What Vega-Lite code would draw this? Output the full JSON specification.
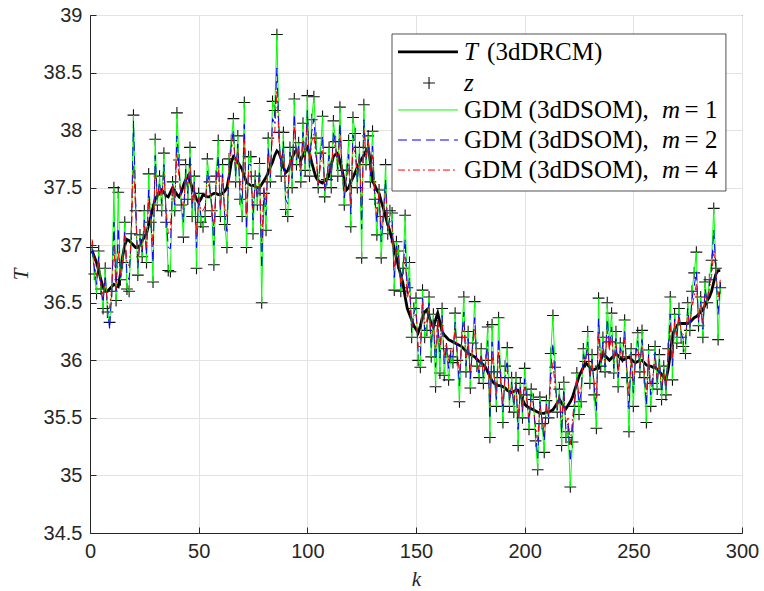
{
"$schema":"https://vega.github.io/schema/vega-lite/v6.json",
"width":652,"height":518,
"autosize":{"type":"none"},
"padding":{"left":90,"top":15,"right":22,"bottom":58},
"config":{"view":{"stroke":"#262626","strokeWidth":1},
"axis":{"labelFont":"Liberation Sans","labelFontSize":20,"labelColor":"#262626","labelFlush":false,"domainColor":"#262626","tickColor":"#262626","gridColor":"#e3e3e3","gridWidth":1,"titleFont":"Liberation Serif","titleFontStyle":"italic","titleFontWeight":"normal","titleFontSize":21,"titleColor":"#262626","tickSize":-6,"labelPadding":14}},
"datasets":{"d":[
{"k":1,"t":36.95,"z":36.98,"b":36.97,"r":37.05},
{"k":2,"t":36.9,"z":36.75,"b":36.8,"r":36.86},
{"k":3,"t":36.85,"z":36.58,"b":36.66,"r":36.72},
{"k":4,"t":36.78,"z":36.95,"b":36.9,"r":36.86},
{"k":5,"t":36.7,"z":36.62,"b":36.64,"r":36.66},
{"k":6,"t":36.64,"z":36.45,"b":36.5,"r":36.55},
{"k":7,"t":36.6,"z":36.8,"b":36.74,"r":36.7},
{"k":8,"t":36.6,"z":36.42,"b":36.47,"r":36.51},
{"k":9,"t":36.62,"z":36.33,"b":36.27,"r":36.45},
{"k":10,"t":36.64,"z":36.6,"b":36.58,"r":36.62},
{"k":11,"t":36.66,"z":37.5,"b":37.2,"r":37.0},
{"k":12,"t":36.65,"z":36.52,"b":36.6,"r":36.62},
{"k":13,"t":36.64,"z":37.46,"b":37.15,"r":36.95},
{"k":14,"t":36.75,"z":36.7,"b":36.72,"r":36.74},
{"k":15,"t":36.9,"z":36.85,"b":36.86,"r":36.88},
{"k":16,"t":37.0,"z":37.2,"b":37.12,"r":37.08},
{"k":17,"t":37.05,"z":36.62,"b":36.75,"r":36.85},
{"k":18,"t":37.04,"z":36.6,"b":36.7,"r":36.82},
{"k":19,"t":37.02,"z":37.1,"b":37.08,"r":37.06},
{"k":20,"t":37.0,"z":38.13,"b":38.08,"r":37.7},
{"k":21,"t":36.98,"z":37.3,"b":37.4,"r":37.3},
{"k":22,"t":36.98,"z":36.74,"b":36.8,"r":36.86},
{"k":23,"t":37.0,"z":37.09,"b":37.06,"r":37.04},
{"k":24,"t":37.04,"z":36.9,"b":36.94,"r":36.97},
{"k":25,"t":37.07,"z":37.3,"b":37.22,"r":37.18},
{"k":26,"t":37.1,"z":36.85,"b":36.92,"r":36.98},
{"k":27,"t":37.18,"z":37.62,"b":37.48,"r":37.4},
{"k":28,"t":37.25,"z":37.2,"b":37.22,"r":37.23},
{"k":29,"t":37.33,"z":36.68,"b":36.85,"r":37.0},
{"k":30,"t":37.4,"z":37.92,"b":37.78,"r":37.66},
{"k":31,"t":37.43,"z":37.35,"b":37.4,"r":37.4},
{"k":32,"t":37.45,"z":37.6,"b":37.55,"r":37.52},
{"k":33,"t":37.48,"z":37.3,"b":37.36,"r":37.4},
{"k":34,"t":37.46,"z":37.8,"b":37.7,"r":37.62},
{"k":35,"t":37.43,"z":37.2,"b":37.28,"r":37.32},
{"k":36,"t":37.42,"z":36.78,"b":36.98,"r":37.1},
{"k":37,"t":37.46,"z":36.77,"b":36.97,"r":37.12},
{"k":38,"t":37.5,"z":37.55,"b":37.54,"r":37.52},
{"k":39,"t":37.47,"z":37.3,"b":37.35,"r":37.38},
{"k":40,"t":37.44,"z":38.15,"b":37.95,"r":37.8},
{"k":41,"t":37.42,"z":37.74,"b":37.65,"r":37.58},
{"k":42,"t":37.46,"z":37.35,"b":37.38,"r":37.4},
{"k":43,"t":37.52,"z":37.07,"b":37.2,"r":37.3},
{"k":44,"t":37.57,"z":37.7,"b":37.66,"r":37.63},
{"k":45,"t":37.6,"z":37.4,"b":37.45,"r":37.5},
{"k":46,"t":37.56,"z":37.85,"b":37.78,"r":37.7},
{"k":47,"t":37.5,"z":37.25,"b":37.32,"r":37.38},
{"k":48,"t":37.45,"z":37.6,"b":37.55,"r":37.52},
{"k":49,"t":37.4,"z":36.8,"b":36.98,"r":37.1},
{"k":50,"t":37.37,"z":37.45,"b":37.43,"r":37.41},
{"k":51,"t":37.4,"z":37.2,"b":37.26,"r":37.3},
{"k":52,"t":37.44,"z":37.16,"b":37.24,"r":37.3},
{"k":53,"t":37.43,"z":37.25,"b":37.3,"r":37.34},
{"k":54,"t":37.42,"z":37.75,"b":37.65,"r":37.58},
{"k":55,"t":37.42,"z":37.55,"b":37.52,"r":37.48},
{"k":56,"t":37.44,"z":37.3,"b":37.34,"r":37.37},
{"k":57,"t":37.45,"z":36.83,"b":37.0,"r":37.14},
{"k":58,"t":37.45,"z":37.6,"b":37.56,"r":37.52},
{"k":59,"t":37.44,"z":37.91,"b":37.78,"r":37.68},
{"k":60,"t":37.44,"z":37.25,"b":37.3,"r":37.34},
{"k":61,"t":37.45,"z":37.7,"b":37.62,"r":37.58},
{"k":62,"t":37.47,"z":37.18,"b":37.26,"r":37.32},
{"k":63,"t":37.5,"z":36.98,"b":37.12,"r":37.24},
{"k":64,"t":37.6,"z":37.75,"b":37.7,"r":37.68},
{"k":65,"t":37.72,"z":37.91,"b":37.86,"r":37.82},
{"k":66,"t":37.77,"z":38.1,"b":38.0,"r":37.94},
{"k":67,"t":37.75,"z":37.55,"b":37.6,"r":37.65},
{"k":68,"t":37.72,"z":37.95,"b":37.88,"r":37.84},
{"k":69,"t":37.69,"z":37.4,"b":37.48,"r":37.54},
{"k":70,"t":37.66,"z":37.25,"b":37.36,"r":37.46},
{"k":71,"t":37.6,"z":38.24,"b":38.05,"r":37.92},
{"k":72,"t":37.55,"z":36.98,"b":37.14,"r":37.26},
{"k":73,"t":37.53,"z":37.77,"b":37.7,"r":37.65},
{"k":74,"t":37.52,"z":37.77,"b":37.7,"r":37.64},
{"k":75,"t":37.52,"z":37.1,"b":37.22,"r":37.31},
{"k":76,"t":37.51,"z":37.6,"b":37.57,"r":37.55},
{"k":77,"t":37.5,"z":37.35,"b":37.4,"r":37.42},
{"k":78,"t":37.5,"z":37.71,"b":37.65,"r":37.6},
{"k":79,"t":37.53,"z":36.5,"b":36.8,"r":37.02},
{"k":80,"t":37.56,"z":37.45,"b":37.48,"r":37.5},
{"k":81,"t":37.59,"z":37.13,"b":37.26,"r":37.36},
{"k":82,"t":37.63,"z":37.93,"b":37.84,"r":37.78},
{"k":83,"t":37.68,"z":37.55,"b":37.59,"r":37.62},
{"k":84,"t":37.72,"z":38.25,"b":38.1,"r":37.98},
{"k":85,"t":37.78,"z":38.17,"b":38.06,"r":37.98},
{"k":86,"t":37.82,"z":38.83,"b":38.54,"r":38.35},
{"k":87,"t":37.8,"z":37.98,"b":37.93,"r":37.89},
{"k":88,"t":37.75,"z":37.6,"b":37.64,"r":37.68},
{"k":89,"t":37.68,"z":37.98,"b":37.9,"r":37.83},
{"k":90,"t":37.63,"z":37.31,"b":37.4,"r":37.47},
{"k":91,"t":37.65,"z":37.25,"b":37.36,"r":37.45},
{"k":92,"t":37.7,"z":37.85,"b":37.81,"r":37.78},
{"k":93,"t":37.76,"z":37.5,"b":37.58,"r":37.63},
{"k":94,"t":37.8,"z":38.27,"b":38.14,"r":38.03},
{"k":95,"t":37.83,"z":37.7,"b":37.74,"r":37.77},
{"k":96,"t":37.78,"z":37.89,"b":37.86,"r":37.83},
{"k":97,"t":37.74,"z":37.55,"b":37.6,"r":37.65},
{"k":98,"t":37.78,"z":38.06,"b":37.98,"r":37.92},
{"k":99,"t":37.82,"z":37.65,"b":37.7,"r":37.74},
{"k":100,"t":37.85,"z":38.3,"b":38.17,"r":38.07},
{"k":101,"t":37.8,"z":37.6,"b":37.66,"r":37.7},
{"k":102,"t":37.72,"z":38.09,"b":37.98,"r":37.9},
{"k":103,"t":37.65,"z":38.29,"b":38.1,"r":37.97},
{"k":104,"t":37.59,"z":37.93,"b":37.83,"r":37.76},
{"k":105,"t":37.56,"z":37.5,"b":37.52,"r":37.53},
{"k":106,"t":37.55,"z":37.8,"b":37.73,"r":37.68},
{"k":107,"t":37.54,"z":38.12,"b":37.95,"r":37.83},
{"k":108,"t":37.56,"z":37.42,"b":37.46,"r":37.49},
{"k":109,"t":37.58,"z":37.57,"b":37.57,"r":37.58},
{"k":110,"t":37.6,"z":37.85,"b":37.78,"r":37.72},
{"k":111,"t":37.7,"z":37.5,"b":37.56,"r":37.6},
{"k":112,"t":37.77,"z":38.08,"b":37.99,"r":37.92},
{"k":113,"t":37.79,"z":37.9,"b":37.87,"r":37.84},
{"k":114,"t":37.8,"z":37.6,"b":37.66,"r":37.7},
{"k":115,"t":37.73,"z":38.2,"b":38.06,"r":37.96},
{"k":116,"t":37.65,"z":37.65,"b":37.65,"r":37.65},
{"k":117,"t":37.56,"z":37.35,"b":37.41,"r":37.46},
{"k":118,"t":37.48,"z":37.65,"b":37.6,"r":37.56},
{"k":119,"t":37.5,"z":37.91,"b":37.79,"r":37.7},
{"k":120,"t":37.55,"z":37.16,"b":37.27,"r":37.36},
{"k":121,"t":37.59,"z":38.11,"b":37.96,"r":37.85},
{"k":122,"t":37.63,"z":37.97,"b":37.87,"r":37.8},
{"k":123,"t":37.68,"z":37.5,"b":37.55,"r":37.6},
{"k":124,"t":37.72,"z":37.85,"b":37.81,"r":37.78},
{"k":125,"t":37.75,"z":36.89,"b":37.14,"r":37.32},
{"k":126,"t":37.78,"z":38.22,"b":38.09,"r":38.0},
{"k":127,"t":37.82,"z":37.7,"b":37.74,"r":37.76},
{"k":128,"t":37.85,"z":37.95,"b":37.92,"r":37.9},
{"k":129,"t":37.72,"z":37.55,"b":37.6,"r":37.64},
{"k":130,"t":37.56,"z":37.99,"b":37.86,"r":37.78},
{"k":131,"t":37.52,"z":37.4,"b":37.44,"r":37.46},
{"k":132,"t":37.48,"z":37.09,"b":37.2,"r":37.28},
{"k":133,"t":37.45,"z":37.48,"b":37.47,"r":37.46},
{"k":134,"t":37.38,"z":36.89,"b":37.03,"r":37.14},
{"k":135,"t":37.32,"z":37.25,"b":37.27,"r":37.28},
{"k":136,"t":37.25,"z":37.7,"b":37.57,"r":37.48},
{"k":137,"t":37.18,"z":37.1,"b":37.12,"r":37.14},
{"k":138,"t":37.12,"z":37.3,"b":37.25,"r":37.21},
{"k":139,"t":37.05,"z":37.28,"b":37.21,"r":37.16},
{"k":140,"t":36.97,"z":36.61,"b":36.72,"r":36.8},
{"k":141,"t":36.89,"z":37.03,"b":36.99,"r":36.96},
{"k":142,"t":36.81,"z":36.95,"b":36.91,"r":36.88},
{"k":143,"t":36.74,"z":36.6,"b":36.64,"r":36.67},
{"k":144,"t":36.67,"z":36.8,"b":36.76,"r":36.73},
{"k":145,"t":36.55,"z":37.26,"b":37.05,"r":36.9},
{"k":146,"t":36.45,"z":36.63,"b":36.58,"r":36.54},
{"k":147,"t":36.4,"z":36.85,"b":36.72,"r":36.62},
{"k":148,"t":36.35,"z":36.2,"b":36.24,"r":36.28},
{"k":149,"t":36.3,"z":36.45,"b":36.41,"r":36.38},
{"k":150,"t":36.27,"z":36.54,"b":36.46,"r":36.4},
{"k":151,"t":36.24,"z":36.0,"b":36.07,"r":36.12},
{"k":152,"t":36.3,"z":35.94,"b":36.04,"r":36.12},
{"k":153,"t":36.38,"z":36.61,"b":36.54,"r":36.5},
{"k":154,"t":36.42,"z":36.2,"b":36.26,"r":36.31},
{"k":155,"t":36.44,"z":36.26,"b":36.31,"r":36.35},
{"k":156,"t":36.38,"z":36.55,"b":36.5,"r":36.46},
{"k":157,"t":36.32,"z":36.03,"b":36.11,"r":36.18},
{"k":158,"t":36.29,"z":36.4,"b":36.37,"r":36.34},
{"k":159,"t":36.35,"z":35.77,"b":35.94,"r":36.06},
{"k":160,"t":36.41,"z":36.3,"b":36.33,"r":36.36},
{"k":161,"t":36.33,"z":35.89,"b":36.02,"r":36.11},
{"k":162,"t":36.25,"z":36.45,"b":36.39,"r":36.35},
{"k":163,"t":36.22,"z":35.87,"b":35.97,"r":36.04},
{"k":164,"t":36.2,"z":36.1,"b":36.13,"r":36.15},
{"k":165,"t":36.18,"z":35.83,"b":35.93,"r":36.0},
{"k":166,"t":36.17,"z":36.03,"b":36.07,"r":36.1},
{"k":167,"t":36.16,"z":35.98,"b":36.03,"r":36.07},
{"k":168,"t":36.15,"z":36.41,"b":36.33,"r":36.28},
{"k":169,"t":36.14,"z":36.0,"b":36.04,"r":36.07},
{"k":170,"t":36.13,"z":35.64,"b":35.78,"r":35.88},
{"k":171,"t":36.12,"z":36.2,"b":36.18,"r":36.16},
{"k":172,"t":36.1,"z":36.55,"b":36.42,"r":36.32},
{"k":173,"t":36.08,"z":35.9,"b":35.95,"r":35.99},
{"k":174,"t":36.06,"z":36.25,"b":36.19,"r":36.15},
{"k":175,"t":36.05,"z":35.76,"b":35.84,"r":35.9},
{"k":176,"t":36.04,"z":36.15,"b":36.12,"r":36.1},
{"k":177,"t":36.03,"z":36.51,"b":36.37,"r":36.27},
{"k":178,"t":36.01,"z":35.95,"b":35.97,"r":35.98},
{"k":179,"t":35.99,"z":35.85,"b":35.89,"r":35.92},
{"k":180,"t":35.98,"z":36.1,"b":36.06,"r":36.04},
{"k":181,"t":35.96,"z":35.8,"b":35.85,"r":35.88},
{"k":182,"t":35.94,"z":36.0,"b":35.98,"r":35.97},
{"k":183,"t":35.9,"z":36.29,"b":36.17,"r":36.1},
{"k":184,"t":35.86,"z":35.33,"b":35.49,"r":35.6},
{"k":185,"t":35.82,"z":36.31,"b":36.16,"r":36.06},
{"k":186,"t":35.8,"z":35.9,"b":35.87,"r":35.85},
{"k":187,"t":35.79,"z":35.6,"b":35.66,"r":35.7},
{"k":188,"t":35.78,"z":36.37,"b":36.19,"r":36.07},
{"k":189,"t":35.78,"z":35.85,"b":35.83,"r":35.81},
{"k":190,"t":35.77,"z":35.46,"b":35.55,"r":35.62},
{"k":191,"t":35.76,"z":35.95,"b":35.89,"r":35.85},
{"k":192,"t":35.74,"z":36.11,"b":36.0,"r":35.92},
{"k":193,"t":35.73,"z":35.6,"b":35.64,"r":35.67},
{"k":194,"t":35.72,"z":35.85,"b":35.81,"r":35.78},
{"k":195,"t":35.73,"z":35.55,"b":35.6,"r":35.64},
{"k":196,"t":35.74,"z":35.85,"b":35.82,"r":35.8},
{"k":197,"t":35.74,"z":35.26,"b":35.4,"r":35.5},
{"k":198,"t":35.7,"z":35.8,"b":35.77,"r":35.75},
{"k":199,"t":35.66,"z":35.5,"b":35.55,"r":35.58},
{"k":200,"t":35.62,"z":35.93,"b":35.84,"r":35.77},
{"k":201,"t":35.6,"z":35.7,"b":35.67,"r":35.65},
{"k":202,"t":35.59,"z":35.4,"b":35.46,"r":35.5},
{"k":203,"t":35.58,"z":35.75,"b":35.7,"r":35.66},
{"k":204,"t":35.57,"z":35.66,"b":35.63,"r":35.61},
{"k":205,"t":35.56,"z":35.3,"b":35.38,"r":35.43},
{"k":206,"t":35.55,"z":35.05,"b":35.15,"r":35.3},
{"k":207,"t":35.54,"z":35.68,"b":35.64,"r":35.61},
{"k":208,"t":35.54,"z":35.45,"b":35.48,"r":35.5},
{"k":209,"t":35.54,"z":35.2,"b":35.3,"r":35.37},
{"k":210,"t":35.55,"z":35.65,"b":35.62,"r":35.6},
{"k":211,"t":35.55,"z":35.5,"b":35.51,"r":35.53},
{"k":212,"t":35.56,"z":36.06,"b":35.91,"r":35.81},
{"k":213,"t":35.57,"z":36.39,"b":36.15,"r":35.98},
{"k":214,"t":35.6,"z":35.94,"b":35.84,"r":35.77},
{"k":215,"t":35.63,"z":35.55,"b":35.57,"r":35.59},
{"k":216,"t":35.66,"z":35.75,"b":35.72,"r":35.7},
{"k":217,"t":35.63,"z":35.26,"b":35.37,"r":35.45},
{"k":218,"t":35.6,"z":35.81,"b":35.75,"r":35.7},
{"k":219,"t":35.58,"z":35.33,"b":35.4,"r":35.46},
{"k":220,"t":35.61,"z":35.38,"b":35.45,"r":35.5},
{"k":221,"t":35.64,"z":34.9,"b":35.12,"r":35.27},
{"k":222,"t":35.68,"z":35.29,"b":35.41,"r":35.49},
{"k":223,"t":35.74,"z":35.6,"b":35.64,"r":35.67},
{"k":224,"t":35.8,"z":35.89,"b":35.86,"r":35.84},
{"k":225,"t":35.86,"z":35.53,"b":35.63,"r":35.7},
{"k":226,"t":35.9,"z":35.64,"b":35.72,"r":35.77},
{"k":227,"t":35.94,"z":36.1,"b":36.05,"r":36.02},
{"k":228,"t":35.98,"z":35.99,"b":35.99,"r":35.98},
{"k":229,"t":35.96,"z":36.25,"b":36.16,"r":36.1},
{"k":230,"t":35.94,"z":35.8,"b":35.84,"r":35.87},
{"k":231,"t":35.92,"z":36.05,"b":36.01,"r":35.98},
{"k":232,"t":35.92,"z":35.7,"b":35.77,"r":35.81},
{"k":233,"t":35.93,"z":35.41,"b":35.56,"r":35.67},
{"k":234,"t":35.93,"z":36.54,"b":36.36,"r":36.23},
{"k":235,"t":36.0,"z":35.95,"b":35.96,"r":35.98},
{"k":236,"t":36.06,"z":36.2,"b":36.16,"r":36.13},
{"k":237,"t":36.04,"z":35.9,"b":35.94,"r":35.97},
{"k":238,"t":36.02,"z":36.5,"b":36.36,"r":36.26},
{"k":239,"t":36.0,"z":36.16,"b":36.11,"r":36.08},
{"k":240,"t":36.02,"z":36.41,"b":36.29,"r":36.22},
{"k":241,"t":36.04,"z":35.89,"b":35.93,"r":35.97},
{"k":242,"t":36.06,"z":36.25,"b":36.19,"r":36.15},
{"k":243,"t":36.04,"z":35.77,"b":35.85,"r":35.9},
{"k":244,"t":36.02,"z":36.15,"b":36.11,"r":36.08},
{"k":245,"t":36.0,"z":36.03,"b":36.02,"r":36.01},
{"k":246,"t":36.01,"z":36.35,"b":36.25,"r":36.18},
{"k":247,"t":36.02,"z":35.85,"b":35.9,"r":35.94},
{"k":248,"t":36.03,"z":35.38,"b":35.58,"r":35.7},
{"k":249,"t":36.01,"z":36.1,"b":36.07,"r":36.05},
{"k":250,"t":35.99,"z":35.6,"b":35.72,"r":35.8},
{"k":251,"t":35.98,"z":36.05,"b":36.03,"r":36.01},
{"k":252,"t":35.99,"z":36.24,"b":36.17,"r":36.11},
{"k":253,"t":36.0,"z":35.9,"b":35.93,"r":35.95},
{"k":254,"t":36.0,"z":36.26,"b":36.18,"r":36.13},
{"k":255,"t":35.98,"z":35.85,"b":35.89,"r":35.92},
{"k":256,"t":35.96,"z":35.46,"b":35.61,"r":35.71},
{"k":257,"t":35.95,"z":36.09,"b":36.05,"r":36.02},
{"k":258,"t":35.95,"z":35.6,"b":35.7,"r":35.78},
{"k":259,"t":35.94,"z":35.8,"b":35.84,"r":35.87},
{"k":260,"t":35.94,"z":36.12,"b":36.07,"r":36.03},
{"k":261,"t":35.92,"z":35.75,"b":35.8,"r":35.84},
{"k":262,"t":35.9,"z":36.05,"b":36.01,"r":35.97},
{"k":263,"t":35.88,"z":35.66,"b":35.72,"r":35.77},
{"k":264,"t":35.85,"z":35.95,"b":35.92,"r":35.9},
{"k":265,"t":35.83,"z":35.7,"b":35.74,"r":35.77},
{"k":266,"t":35.92,"z":36.1,"b":36.05,"r":36.01},
{"k":267,"t":36.05,"z":36.55,"b":36.4,"r":36.3},
{"k":268,"t":36.22,"z":35.83,"b":35.95,"r":36.03},
{"k":269,"t":36.27,"z":36.4,"b":36.36,"r":36.33},
{"k":270,"t":36.3,"z":36.15,"b":36.19,"r":36.22},
{"k":271,"t":36.32,"z":36.45,"b":36.41,"r":36.38},
{"k":272,"t":36.32,"z":36.2,"b":36.24,"r":36.26},
{"k":273,"t":36.32,"z":36.12,"b":36.18,"r":36.22},
{"k":274,"t":36.32,"z":36.06,"b":36.14,"r":36.19},
{"k":275,"t":36.32,"z":36.5,"b":36.45,"r":36.41},
{"k":276,"t":36.33,"z":36.26,"b":36.28,"r":36.3},
{"k":277,"t":36.35,"z":36.6,"b":36.53,"r":36.47},
{"k":278,"t":36.37,"z":36.76,"b":36.64,"r":36.56},
{"k":279,"t":36.38,"z":36.94,"b":36.77,"r":36.66},
{"k":280,"t":36.4,"z":36.3,"b":36.33,"r":36.35},
{"k":281,"t":36.42,"z":36.55,"b":36.51,"r":36.48},
{"k":282,"t":36.44,"z":36.2,"b":36.27,"r":36.32},
{"k":283,"t":36.48,"z":36.68,"b":36.62,"r":36.58},
{"k":284,"t":36.52,"z":36.5,"b":36.51,"r":36.51},
{"k":285,"t":36.55,"z":36.7,"b":36.66,"r":36.62},
{"k":286,"t":36.6,"z":36.87,"b":36.79,"r":36.73},
{"k":287,"t":36.68,"z":37.32,"b":37.13,"r":36.95},
{"k":288,"t":36.75,"z":36.8,"b":36.78,"r":36.77},
{"k":289,"t":36.78,"z":36.18,"b":36.4,"r":36.55},
{"k":290,"t":36.78,"z":36.63,"b":36.67,"r":36.7}
]},
"layer":[
{"data":{"name":"d"},"mark":{"type":"line","color":"#000000","strokeWidth":2.8},
 "encoding":{"x":{"field":"k","type":"quantitative","title":"k","scale":{"domain":[0,300],"nice":false},"axis":{"values":[0,50,100,150,200,250,300],"grid":true,"titlePadding":7}},
 "y":{"field":"t","type":"quantitative","title":"T","scale":{"domain":[34.5,39],"nice":false,"zero":false},"axis":{"values":[34.5,35,35.5,36,36.5,37,37.5,38,38.5,39],"format":"~g","grid":true,"titlePadding":12}}}},
{"data":{"name":"d"},"mark":{"type":"point","shape":"M-1,0L1,0M0,-1L0,1","size":140,"filled":false,"strokeWidth":1.1,"color":"#111111","opacity":1},
 "encoding":{"x":{"field":"k","type":"quantitative","title":"k"},"y":{"field":"z","type":"quantitative","title":"T"}}},
{"data":{"name":"d"},"mark":{"type":"line","color":"#00ff00","strokeWidth":1},
 "encoding":{"x":{"field":"k","type":"quantitative","title":"k"},"y":{"field":"z","type":"quantitative","title":"T"}}},
{"data":{"name":"d"},"mark":{"type":"line","color":"#0000ff","strokeWidth":1,"strokeDash":[9,5]},
 "encoding":{"x":{"field":"k","type":"quantitative","title":"k"},"y":{"field":"b","type":"quantitative","title":"T"}}},
{"data":{"name":"d"},"mark":{"type":"line","color":"#ff0000","strokeWidth":1,"strokeDash":[7,3,2,3]},
 "encoding":{"x":{"field":"k","type":"quantitative","title":"k"},"y":{"field":"r","type":"quantitative","title":"T"}}},
{"data":{"values":[{"x":138.96,"x2":292.6,"y":38.835,"y2":37.471}]},"mark":{"type":"rect","fill":"#ffffff","stroke":"#262626","strokeWidth":0.8},
 "encoding":{"x":{"field":"x","type":"quantitative","title":"k"},"x2":{"field":"x2"},"y":{"field":"y","type":"quantitative","title":"T"},"y2":{"field":"y2"}}},
{"data":{"values":[{"x":141.7,"x2":169.3,"y":38.679}]},"mark":{"type":"rule","color":"#000000","strokeWidth":2.8},
 "encoding":{"x":{"field":"x","type":"quantitative","title":"k"},"x2":{"field":"x2"},"y":{"field":"y","type":"quantitative","title":"T"}}},
{"data":{"values":[{"x":156,"y":38.409}]},"mark":{"type":"point","shape":"M-1,0L1,0M0,-1L0,1","size":140,"filled":false,"strokeWidth":1.1,"color":"#111111","opacity":1},
 "encoding":{"x":{"field":"x","type":"quantitative","title":"k"},"y":{"field":"y","type":"quantitative","title":"T"}}},
{"data":{"values":[{"x":141.7,"x2":169.3,"y":38.175}]},"mark":{"type":"rule","color":"#00ff00","strokeWidth":1},
 "encoding":{"x":{"field":"x","type":"quantitative","title":"k"},"x2":{"field":"x2"},"y":{"field":"y","type":"quantitative","title":"T"}}},
{"data":{"values":[{"x":141.7,"x2":169.3,"y":37.914}]},"mark":{"type":"rule","color":"#0000ff","strokeWidth":1,"strokeDash":[9,5]},
 "encoding":{"x":{"field":"x","type":"quantitative","title":"k"},"x2":{"field":"x2"},"y":{"field":"y","type":"quantitative","title":"T"}}},
{"data":{"values":[{"x":141.7,"x2":169.3,"y":37.653}]},"mark":{"type":"rule","color":"#ff0000","strokeWidth":1,"strokeDash":[7,3,2,3]},
 "encoding":{"x":{"field":"x","type":"quantitative","title":"k"},"x2":{"field":"x2"},"y":{"field":"y","type":"quantitative","title":"T"}}},
{"data":{"values":[{"x":182.7,"y":38.679,"s":"(3dDRCM)"},{"x":172.1,"y":38.175,"s":"GDM (3dDSOM),"},{"x":172.1,"y":37.914,"s":"GDM (3dDSOM),"},{"x":172.1,"y":37.653,"s":"GDM (3dDSOM),"},{"x":273.6,"y":38.175,"s":"= 1"},{"x":273.6,"y":37.914,"s":"= 2"},{"x":273.6,"y":37.653,"s":"= 4"}]},
 "mark":{"type":"text","align":"left","baseline":"middle","font":"Liberation Serif","fontSize":25,"color":"#000000"},
 "encoding":{"x":{"field":"x","type":"quantitative","title":"k"},"y":{"field":"y","type":"quantitative","title":"T"},"text":{"field":"s"}}},
{"data":{"values":[{"x":172.1,"y":38.679,"s":"T"},{"x":172.1,"y":38.409,"s":"z"},{"x":263.2,"y":38.175,"s":"m"},{"x":263.2,"y":37.914,"s":"m"},{"x":263.2,"y":37.653,"s":"m"}]},
 "mark":{"type":"text","align":"left","baseline":"middle","font":"Liberation Serif","fontStyle":"italic","fontSize":25,"color":"#000000"},
 "encoding":{"x":{"field":"x","type":"quantitative","title":"k"},"y":{"field":"y","type":"quantitative","title":"T"},"text":{"field":"s"}}}
]
}
